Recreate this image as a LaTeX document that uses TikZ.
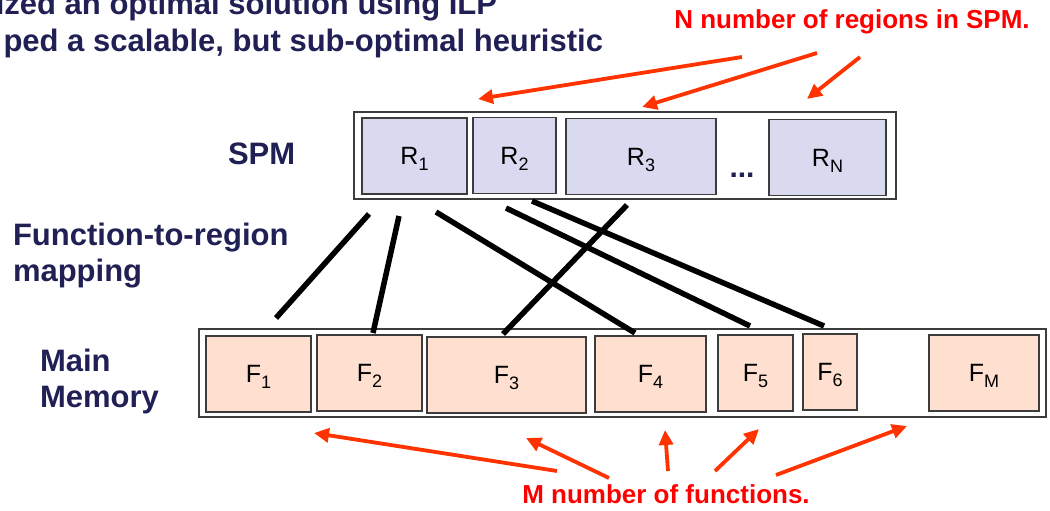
\documentclass[tikz,border=0pt]{standalone}
\usepackage{fontspec}
\setmainfont{Liberation Sans}
\usetikzlibrary{arrows.meta}
\definecolor{navy}{RGB}{32,32,85}
\definecolor{regfill}{RGB}{217,217,240}
\definecolor{funfill}{RGB}{254,223,208}
\definecolor{boxline}{RGB}{60,60,60}
\definecolor{arrowred}{RGB}{255,51,0}
\newcommand{\sublab}[2]{#1\raisebox{-6pt}[0pt][0pt]{\fontsize{18}{18}\selectfont #2}}
\begin{document}
\begin{tikzpicture}[
  x=1pt, y=-1pt,
  every node/.style={inner sep=0pt, outer sep=0pt},
  box/.style={draw=boxline, line width=1.2pt, minimum height=76pt, font=\fontsize{25}{30}\selectfont},
  region/.style={box, fill=regfill},
  func/.style={box, fill=funfill},
  frame/.style={draw=boxline, line width=1.4pt, fill=white},
  lbl/.style={text=navy, font=\fontsize{31}{35.5}\selectfont\bfseries, align=left},
  note/.style={text=red, font=\fontsize{26}{30}\selectfont\bfseries},
  link/.style={line width=5.5pt},
  ptr/.style={draw=arrowred, line width=3.8pt, -{Triangle[length=15pt,width=14pt]}}
]
\useasboundingbox (0,0) rectangle (1050,511);
\clip (0,0) rectangle (1050,511);
% slide text cut off at the top
\node[lbl, anchor=base east] (head1) at (497,15) {ized an optimal solution using ILP};
\node[lbl, anchor=base east] (head2) at (603,52) {ped a scalable, but sub-optimal heuristic};
% left labels (base = last line)
\node[lbl, anchor=base west] (spmlbl) at (228,164) {SPM};
\node[lbl, anchor=base west] (maplbl) at (13,281) {Function-to-region\\mapping};
\node[lbl, anchor=base west] (memlbl) at (40,407) {Main\\Memory};
% SPM regions
\node[frame, minimum width=542pt, minimum height=87pt] (spm) at (625,155.5) {};
\foreach \n/\cx/\cy/\w/\t in {1/414.5/156/105/{\sublab{R}{1}}, 2/514.5/155.5/83/{\sublab{R}{2}},
    3/641/156.5/150/{\sublab{R}{3}}, N/827.5/157.5/117/{\sublab{R}{N}}}
  \node[region, minimum width=\w pt] (R\n) at (\cx,\cy) {\t};
\node[lbl, font=\fontsize{30}{30}\selectfont\bfseries, anchor=base] (dots) at (742,177) {...};
% main memory functions
\node[frame, minimum width=847pt, minimum height=88pt] (mem) at (622.5,373) {};
\foreach \n/\cx/\cy/\w/\t in {1/258.5/374/105/{\sublab{F}{1}}, 2/369.5/373/105/{\sublab{F}{2}},
    3/506.5/375/159/{\sublab{F}{3}}, 4/650.5/374/111/{\sublab{F}{4}},
    5/755.5/373/75/{\sublab{F}{5}}, 6/830/372/54/{\sublab{F}{6}}, M/984/373/110/{\sublab{F}{M}}}
  \node[func, minimum width=\w pt] (F\n) at (\cx,\cy) {\t};
% function-to-region mapping
\foreach \n/\ax/\ay/\bx/\by in {1/369/214/276/318, 2/399/216/373/333, 3/436/212/635/333,
    4/506/208/750/326, 5/532/201/824/326, 6/627/205/503/334} {
  \coordinate (map\n a) at (\ax,\ay);
  \coordinate (map\n b) at (\bx,\by);
  \draw[link] (map\n a) -- (map\n b);
}
% annotations
\node[note, anchor=base] (nnote) at (852,29) {N number of regions in SPM.};
\node[note, anchor=base] (mnote) at (666,503) {M number of functions.};
\foreach \n/\ax/\ay/\bx/\by in {1/742/57/478/99, 2/817/53/642/107, 3/860/57/807/99} {
  \coordinate (nt\n) at (\ax,\ay);
  \coordinate (nh\n) at (\bx,\by);
  \draw[ptr] (nt\n) -- (nh\n);
}
\foreach \n/\ax/\ay/\bx/\by in {1/557/471/314/433, 2/609/478/526/438, 3/668/471/665/430,
    4/715/471/759/429, 5/776/475/907/426} {
  \coordinate (mt\n) at (\ax,\ay);
  \coordinate (mh\n) at (\bx,\by);
  \draw[ptr] (mt\n) -- (mh\n);
}
\end{tikzpicture}
\end{document}
